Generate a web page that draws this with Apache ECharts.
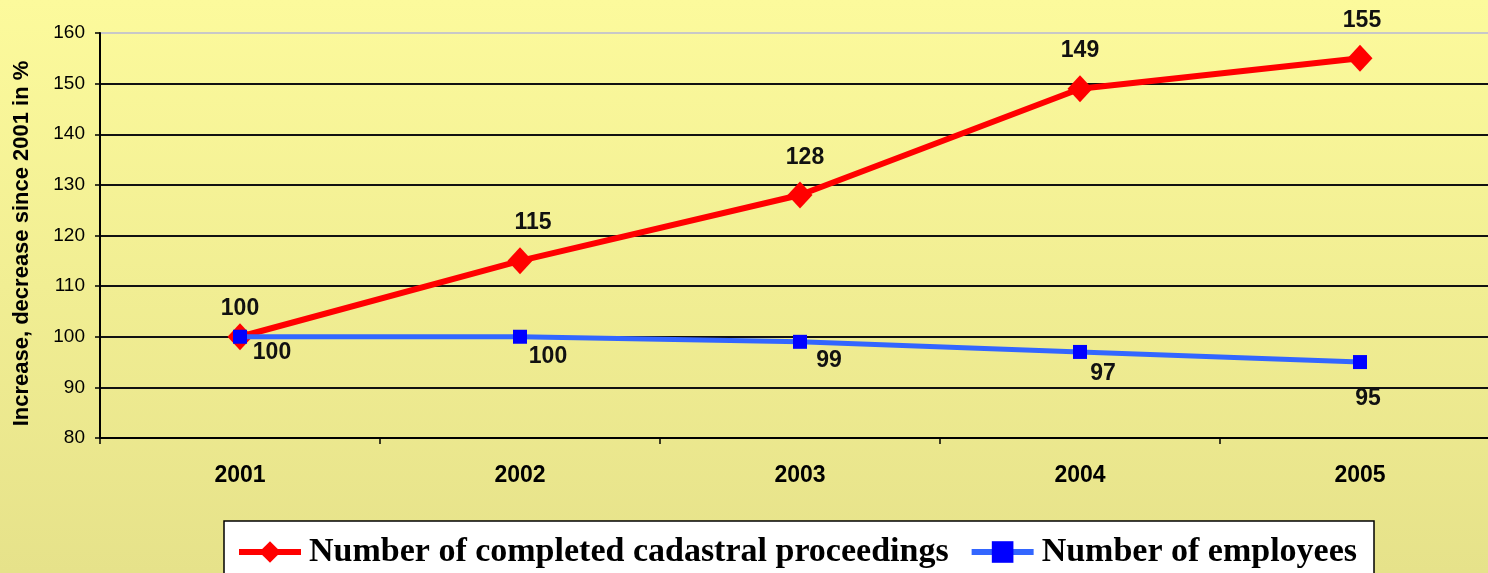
<!DOCTYPE html>
<html>
<head>
<meta charset="utf-8">
<script src="https://cdn.jsdelivr.net/npm/echarts@6/dist/echarts.min.js"></script>
<style>
html,body{margin:0;padding:0;background:#fff;}
#chart{width:1488px;height:573px;}
</style>
</head>
<body>
<div id="chart"></div>
<script>
const categories = ['2001', '2002', '2003', '2004', '2005'];
const proceedings = [100, 115, 128, 149, 155];
const employees = [100, 100, 99, 97, 95];
const seriesNames = ['Number of completed cadastral proceedings', 'Number of employees'];
const yMin = 80, yMax = 160, yStep = 10;
const yAxisTitle = 'Increase, decrease since 2001 in %';

// label offsets (pixels, relative to the marker centre)
const redLabelOffsets = [[0, -28], [13, -38], [5, -37], [0, -38], [2, -38]];
const blueLabelOffsets = [[32, 16], [28, 20], [29, 19], [23, 22], [8, 37]];

const labelFont = {
  fontFamily: 'Liberation Sans, Arial, sans-serif',
  fontWeight: 'bold',
  fontSize: 23,
  color: '#111'
};

function buildData(values, offsets) {
  return values.map((v, i) => ({
    value: v,
    label: { offset: offsets[i] }
  }));
}

const gridColors = [];
for (let v = yMin; v <= yMax; v += yStep) {
  gridColors.push(v === yMax ? '#c8c8c8' : '#111');
}

const chart = echarts.init(document.getElementById('chart'), null, { renderer: 'canvas' });
chart.setOption({
  animation: false,
  backgroundColor: {
    type: 'linear', x: 0, y: 0, x2: 0, y2: 1,
    colorStops: [
      { offset: 0, color: '#FCFA9C' },
      { offset: 1, color: '#E6E28A' }
    ]
  },
  grid: { left: 100, top: 33, width: 1400, height: 405, containLabel: false, outerBoundsMode: 'none' },
  legend: {
    data: seriesNames,
    left: 224,
    top: 521,
    padding: [14, 17, 12, 12],
    itemGap: 20,
    itemWidth: 62,
    itemHeight: 27,
    backgroundColor: '#ffffff',
    borderColor: '#000',
    borderWidth: 1.5,
    borderRadius: 0,
    lineStyle: { width: 6 },
    textStyle: {
      fontFamily: 'Liberation Serif, Times New Roman, serif',
      fontWeight: 'bold',
      fontSize: 34,
      color: '#000',
      padding: [0, 0, 0, 3]
    }
  },
  xAxis: {
    type: 'category',
    data: categories,
    boundaryGap: true,
    axisLine: { lineStyle: { color: '#000', width: 2 } },
    axisTick: { show: true, length: 6, inside: false, lineStyle: { color: '#000', width: 1.5 } },
    axisLabel: {
      margin: 26,
      fontFamily: 'Liberation Sans, Arial, sans-serif',
      fontWeight: 'bold',
      fontSize: 23,
      color: '#000'
    },
    splitLine: { show: false }
  },
  yAxis: {
    type: 'value',
    min: yMin,
    max: yMax,
    interval: yStep,
    name: yAxisTitle,
    nameLocation: 'middle',
    nameGap: 67,
    nameRotate: 90,
    nameTextStyle: {
      fontFamily: 'Liberation Sans, Arial, sans-serif',
      fontWeight: 'bold',
      fontSize: 22,
      color: '#000',
      padding: [0, 16, 0, 0]
    },
    axisLine: { show: true, lineStyle: { color: '#000', width: 2 } },
    axisTick: { show: true, length: 5, inside: false, lineStyle: { color: '#000', width: 1.5 } },
    axisLabel: {
      margin: 15,
      fontFamily: 'Liberation Sans, Arial, sans-serif',
      fontSize: 19,
      color: '#000'
    },
    splitLine: { show: true, lineStyle: { color: gridColors, width: 2 } }
  },
  series: [
    {
      name: seriesNames[0],
      type: 'line',
      data: buildData(proceedings, redLabelOffsets),
      symbol: 'diamond',
      symbolSize: [25, 27],
      itemStyle: { color: '#FF0000' },
      lineStyle: { color: '#FF0000', width: 6 },
      label: Object.assign({ show: true, position: 'inside' }, labelFont),
      z: 2
    },
    {
      name: seriesNames[1],
      type: 'line',
      data: buildData(employees, blueLabelOffsets),
      symbol: 'rect',
      symbolSize: 14,
      itemStyle: { color: '#0000FF' },
      lineStyle: { color: '#3366FF', width: 5 },
      label: Object.assign({ show: true, position: 'inside' }, labelFont),
      z: 3
    }
  ]
});
</script>
</body>
</html>
